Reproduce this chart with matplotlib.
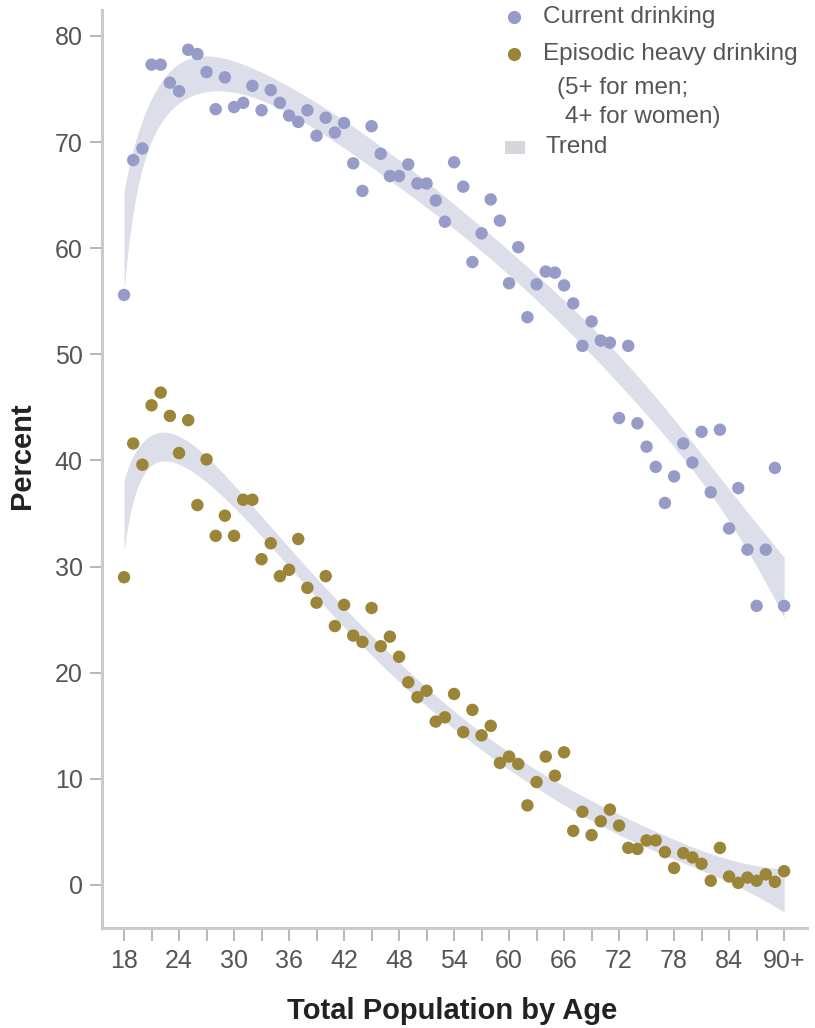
import numpy as np
import matplotlib
matplotlib.use("Agg")
import matplotlib.pyplot as plt
from matplotlib.lines import Line2D
from matplotlib.patches import Rectangle

plt.rcParams['font.family'] = ['Liberation Sans', 'DejaVu Sans']

# Share of adults (%) by single year of age, 18 .. 90+
ages = np.arange(18, 91)

current_drinking = [
    55.6, 68.3, 69.4, 77.3, 77.3, 75.6, 74.8, 78.7, 78.3, 76.6,
    73.1, 76.1, 73.3, 73.7, 75.3, 73.0, 74.9, 73.7, 72.5, 71.9,
    73.0, 70.6, 72.3, 70.9, 71.8, 68.0, 65.4, 71.5, 68.9, 66.8,
    66.8, 67.9, 66.1, 66.1, 64.5, 62.5, 68.1, 65.8, 58.7, 61.4,
    64.6, 62.6, 56.7, 60.1, 53.5, 56.6, 57.8, 57.7, 56.5, 54.8,
    50.8, 53.1, 51.3, 51.1, 44.0, 50.8, 43.5, 41.3, 39.4, 36.0,
    38.5, 41.6, 39.8, 42.7, 37.0, 42.9, 33.6, 37.4, 31.6, 26.3,
    31.6, 39.3, 26.3,
]

heavy_drinking = [
    29.0, 41.6, 39.6, 45.2, 46.4, 44.2, 40.7, 43.8, 35.8, 40.1,
    32.9, 34.8, 32.9, 36.3, 36.3, 30.7, 32.2, 29.1, 29.7, 32.6,
    28.0, 26.6, 29.1, 24.4, 26.4, 23.5, 22.9, 26.1, 22.5, 23.4,
    21.5, 19.1, 17.7, 18.3, 15.4, 15.8, 18.0, 14.4, 16.5, 14.1,
    15.0, 11.5, 12.1, 11.4, 7.5, 9.7, 12.1, 10.3, 12.5, 5.1,
    6.9, 4.7, 6.0, 7.1, 5.6, 3.5, 3.4, 4.2, 4.2, 3.1,
    1.6, 3.0, 2.6, 2.0, 0.4, 3.5, 0.8, 0.2, 0.7, 0.4,
    1.0, 0.3, 1.3,
]

tick_ages = [18, 24, 30, 36, 42, 48, 54, 60, 66, 72, 78, 84, 90]
tick_labels = ["18", "24", "30", "36", "42", "48", "54", "60", "66",
               "72", "78", "84", "90+"]
y_ticks = [0, 10, 20, 30, 40, 50, 60, 70, 80]

blue = "#979bc8"
gold = "#9a8538"
band = "#dcdfe9"
text_grey = "#555555"
axis_grey = "#cbcbcb"


def trend_band(x, y, n=300):
    """OLS fit on [1, x, x^2, x^3, log(x-16)] with a 95% band for the mean."""
    x = np.asarray(x, float)
    y = np.asarray(y, float)
    c = x.mean()

    def design(v):
        u = (v - c) / 20.0
        return np.column_stack([np.ones_like(v), u, u ** 2, u ** 3,
                                np.log(v - 16.0)])

    X = design(x)
    beta, *_ = np.linalg.lstsq(X, y, rcond=None)
    resid = y - X @ beta
    s2 = resid @ resid / (len(y) - X.shape[1])
    cov = s2 * np.linalg.inv(X.T @ X)
    xs = np.linspace(x.min(), x.max(), n)
    Xs = design(xs)
    fit = Xs @ beta
    se = np.sqrt(np.einsum('ij,jk,ik->i', Xs, cov, Xs))
    return xs, fit - 1.96 * se, fit + 1.96 * se


fig = plt.figure(figsize=(8.15, 10.28), dpi=100)
ax = fig.add_axes([0.1252, 0.0973, 0.8650, 0.893])

for series in (current_drinking, heavy_drinking):
    xs, lo, hi = trend_band(ages, series)
    ax.fill_between(xs, lo, hi, color=band, lw=0, zorder=1)

ax.scatter(ages, current_drinking, s=80, color=blue, edgecolors='none', zorder=3)
ax.scatter(ages, heavy_drinking, s=80, color=gold, edgecolors='none', zorder=3)

ax.set_xlim(15.6, 92.5)
ax.set_ylim(-4.05, 82.45)

ax.set_xticks(tick_ages)
ax.set_xticklabels(tick_labels)
ax.set_xticks(np.arange(21, 90, 6), minor=True)
ax.set_yticks(y_ticks)

ax.tick_params(axis='both', which='both', colors='#aaaaaa', labelcolor=text_grey,
               labelsize=18, length=9, width=1.2)
ax.tick_params(axis='x', pad=6)
ax.tick_params(axis='y', pad=5)

for side in ('top', 'right'):
    ax.spines[side].set_visible(False)
for side in ('left', 'bottom'):
    ax.spines[side].set_color(axis_grey)
    ax.spines[side].set_linewidth(2.2)

ax.set_xlabel("Total Population by Age", fontsize=21, fontweight='bold',
              color='#222222')
ax.set_ylabel("Percent", fontsize=21, fontweight='bold', color='#222222')
ax.xaxis.set_label_coords(0.497, -0.075)
ax.yaxis.set_label_coords(-0.094, 0.514)


def fx(px):
    return px / 815.0


def fy(py):
    return 1.0 - py / 1028.0


legend_size = 17.5
fig.add_artist(Line2D([fx(514)], [fy(17)], marker='o', markersize=9.5, color=blue,
                      markeredgewidth=0, linestyle='none', transform=fig.transFigure))
fig.text(fx(543), fy(17), "Current drinking", fontsize=legend_size,
         color=text_grey, va='center', ha='left')

fig.add_artist(Line2D([fx(514)], [fy(54)], marker='o', markersize=9.5, color=gold,
                      markeredgewidth=0, linestyle='none', transform=fig.transFigure))
fig.text(fx(543), fy(54), "Episodic heavy drinking", fontsize=legend_size,
         color=text_grey, va='center', ha='left')
fig.text(fx(557), fy(88), "(5+ for men;", fontsize=legend_size,
         color=text_grey, va='center', ha='left')
fig.text(fx(565), fy(117), "4+ for women)", fontsize=legend_size,
         color=text_grey, va='center', ha='left')

fig.add_artist(Rectangle((fx(505), fy(154)), fx(20), 13 / 1028.0, color="#d6d7dd",
                         transform=fig.transFigure, lw=0))
fig.text(fx(545), fy(147), "Trend", fontsize=legend_size,
         color=text_grey, va='center', ha='left')

fig.savefig("out.png", dpi=100, facecolor='white')
